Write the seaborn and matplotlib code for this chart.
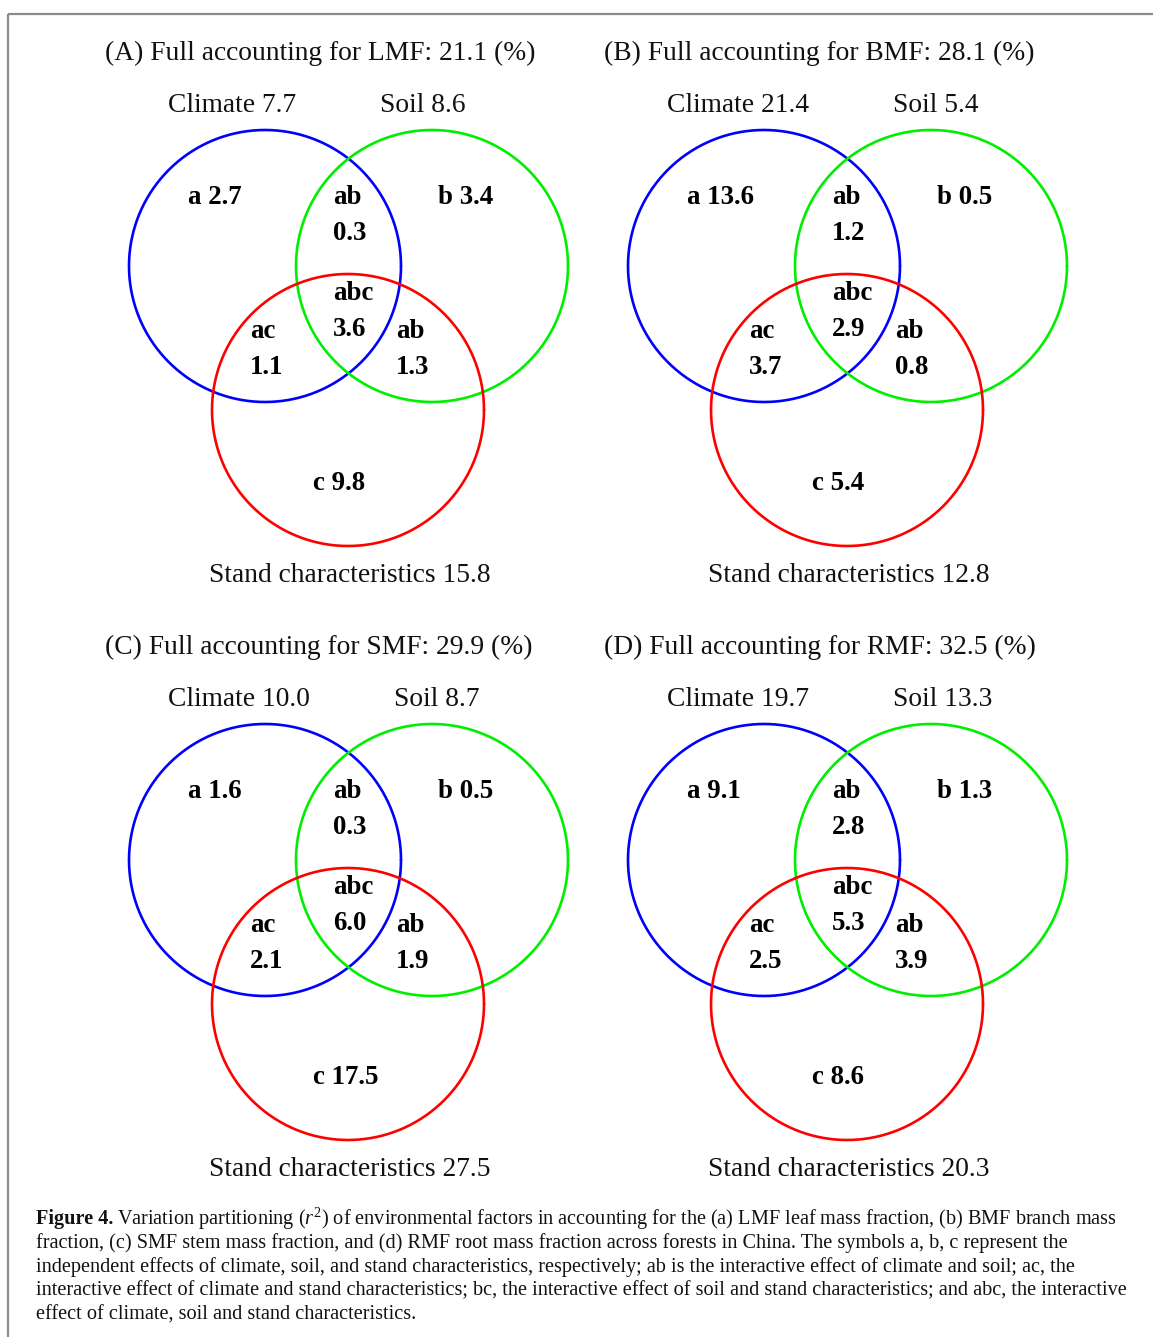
import numpy as np
import pandas as pd
import matplotlib
matplotlib.use("Agg")
import matplotlib.pyplot as plt
import seaborn as sns

# Variation partitioning results (r^2, %) for the four biomass fractions
panel_letters = ["A", "B", "C", "D"]
responses = ["LMF", "BMF", "SMF", "RMF"]
full_totals = [21.1, 28.1, 29.9, 32.5]
climate_totals = [7.7, 21.4, 10.0, 19.7]
soil_totals = [8.6, 5.4, 8.7, 13.3]
stand_totals = [15.8, 12.8, 27.5, 20.3]

part_a = [2.7, 13.6, 1.6, 9.1]
part_b = [3.4, 0.5, 0.5, 1.3]
part_c = [9.8, 5.4, 17.5, 8.6]
part_ab = [0.3, 1.2, 0.3, 2.8]
part_ac = [1.1, 3.7, 2.1, 2.5]
part_bc = [1.3, 0.8, 1.9, 3.9]
part_abc = [3.6, 2.9, 6.0, 5.3]

caption_head = "Figure 4."
caption_lines = [
    r"Variation partitioning ($r^2$) of environmental factors in accounting for the (a) LMF leaf mass fraction, (b) BMF branch mass",
    "fraction, (c) SMF stem mass fraction, and (d) RMF root mass fraction across forests in China. The symbols a, b, c represent the",
    "independent effects of climate, soil, and stand characteristics, respectively; ab is the interactive effect of climate and soil; ac, the",
    "interactive effect of climate and stand characteristics; bc, the interactive effect of soil and stand characteristics; and abc, the interactive",
    "effect of climate, soil and stand characteristics.",
]

sns.set_theme(style="white")
plt.rcParams["font.family"] = ["Liberation Serif", "DejaVu Serif"]
plt.rcParams["mathtext.fontset"] = "custom"
plt.rcParams["mathtext.rm"] = "Liberation Serif"
plt.rcParams["mathtext.it"] = "Liberation Serif:italic"
plt.rcParams["mathtext.bf"] = "Liberation Serif:bold"

W, H = 1153, 1337
fig = plt.figure(figsize=(W / 100, H / 100), dpi=100)
ax = fig.add_axes([0, 0, 1, 1])
ax.set_xlim(0, W)
ax.set_ylim(H, 0)
ax.axis("off")

# outer frame (top and left edges)
ax.plot([8, W], [14, 14], color="#8c8c8c", lw=1.6, solid_capstyle="butt")
ax.plot([8, 8], [14, H], color="#8c8c8c", lw=1.6, solid_capstyle="butt")

R = 136
theta = np.linspace(0, 2 * np.pi, 721)
circle_colors = ["#0000ff", "#00ee00", "#ff0000"]

title_fs = 19.8
label_fs = 19.8
region_fs = 19.4
soil_left = [380, 394, 394, 394]

for i in range(4):
    ox = 0 if i % 2 == 0 else 499
    oy = 0 if i < 2 else 594
    centers = [(265 + ox, 266 + oy), (432 + ox, 266 + oy), (348 + ox, 410 + oy)]
    frames = []
    for k, (cx, cy) in enumerate(centers):
        frames.append(pd.DataFrame({"x": cx + R * np.cos(theta),
                                    "y": cy + R * np.sin(theta),
                                    "set": k}))
    circ = pd.concat(frames, ignore_index=True)
    sns.lineplot(data=circ, x="x", y="y", hue="set", palette=circle_colors,
                 sort=False, estimator=None, lw=1.9, legend=False, ax=ax)

    plain = dict(ha="left", va="center", fontsize=label_fs, color="#111111")
    ax.text(105 + ox, 53 + oy,
            f"({panel_letters[i]}) Full accounting for {responses[i]}: {full_totals[i]:.1f} (%)",
            ha="left", va="center", fontsize=title_fs, color="#111111")
    ax.text(168 + ox, 106 + oy, f"Climate {climate_totals[i]:.1f}", **plain)
    ax.text(soil_left[i] + ox, 106 + oy, f"Soil {soil_totals[i]:.1f}", **plain)
    ax.text(209 + ox, 575 + oy, f"Stand characteristics {stand_totals[i]:.1f}", **plain)

    bold = dict(ha="left", va="center", fontsize=region_fs, fontweight="bold", color="black")
    ax.text(188 + ox, 197 + oy, f"a {part_a[i]:.1f}", **bold)
    ax.text(438 + ox, 197 + oy, f"b {part_b[i]:.1f}", **bold)
    ax.text(313 + ox, 483 + oy, f"c {part_c[i]:.1f}", **bold)
    ax.text(333 + ox, 198 + oy, "ab", **bold)
    ax.text(333 + ox, 234 + oy, f"{part_ab[i]:.1f}", **bold)
    ax.text(333 + ox, 293 + oy, "abc", **bold)
    ax.text(333 + ox, 329 + oy, f"{part_abc[i]:.1f}", **bold)
    ax.text(250 + ox, 331 + oy, "ac", **bold)
    ax.text(250 + ox, 367 + oy, f"{part_ac[i]:.1f}", **bold)
    ax.text(396 + ox, 331 + oy, "ab", **bold)
    ax.text(396 + ox, 367 + oy, f"{part_bc[i]:.1f}", **bold)

# caption: bold lead-in followed by the running text
cap_fs = 14.6
head = ax.text(36, 1219, caption_head, ha="left", va="center",
               fontsize=cap_fs, fontweight="bold", color="#111111")
renderer = fig.canvas.get_renderer()
head_w = head.get_window_extent(renderer).width
for j, line in enumerate(caption_lines):
    x0 = 36 + (head_w + 4 if j == 0 else 0)
    ax.text(x0, 1219 + 24 * j, line, ha="left", va="center",
            fontsize=cap_fs, color="#111111")

fig.savefig("out.png", dpi=100)
